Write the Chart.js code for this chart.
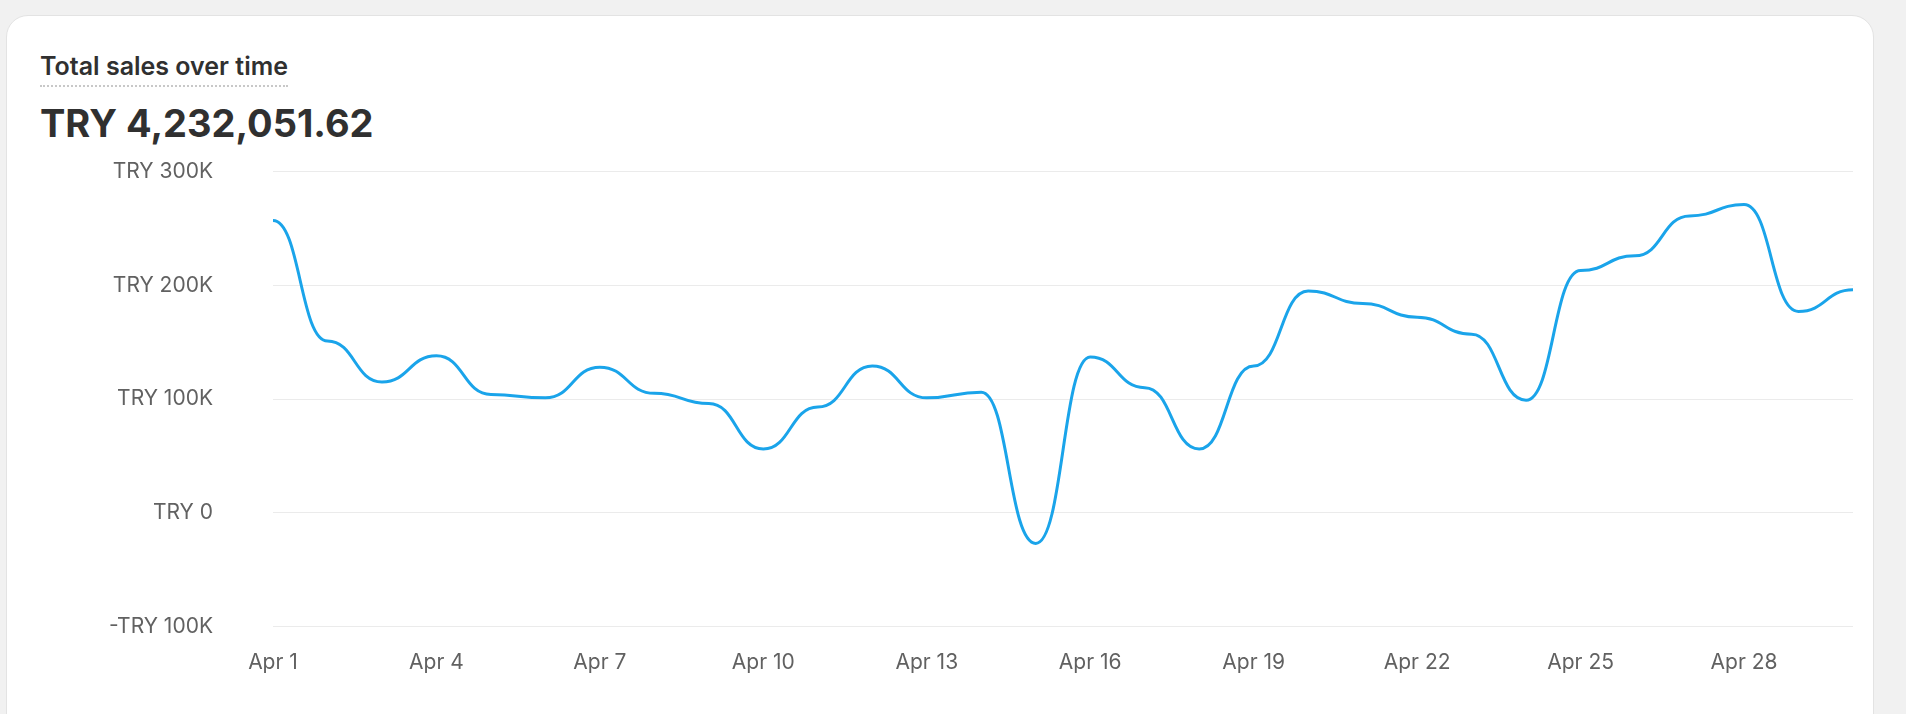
<!DOCTYPE html>
<html><head><meta charset="utf-8">
<script src="https://cdn.jsdelivr.net/npm/chart.js@4"></script>
<style>
body{margin:0;background:#f1f1f1;font-family:Inter,sans-serif;width:1906px;height:714px;overflow:hidden}
#card{position:absolute;left:6px;top:15px;width:1866px;height:720px;background:#fff;border-radius:22px;border:1px solid #e3e3e3}
#t{position:absolute;left:33px;top:35px;font-size:25px;font-weight:600;color:#303030;border-bottom:2px dotted #c8c8c8;padding-bottom:4px}
#v{position:absolute;left:33px;top:84px;font-size:38px;font-weight:700;color:#303030}
#w{position:absolute;left:42px;top:83px;width:1820px;height:600px}
</style></head><body>
<div id="card"><div id="t">Total sales over time</div><div id="v">TRY 4,232,051.62</div>
<div id="w"><canvas id="c"></canvas></div></div>
<script>
const labels=[];for(let i=1;i<=30;i++)labels.push('Apr '+i);
const sales=[257,151,115,138,104,101,128,105,96,56,93,129,101,106,-27,137,110,56,129,195,184,172,157,99,213,226,261,271,177,196].map(v=>v*1000);
const yTicks=[-100000,0,100000,200000,300000];
const flatCurve={id:'flatCurve',beforeDatasetDraw(chart,args){
  const meta=args.meta,line=meta.dataset,pts=meta.data;
  line.updateControlPoints(chart.chartArea);
  for(let i=0;i<pts.length;i++){const p=pts[i];
    const prev=pts[i-1],next=pts[i+1];
    if(prev){p.cp1x=p.x-(p.x-prev.x)*0.5;p.cp1y=p.y;}else{p.cp1x=p.x;p.cp1y=p.y;}
    if(next){p.cp2x=p.x+(next.x-p.x)*0.5;p.cp2y=p.y;}else{p.cp2x=p.x;p.cp2y=p.y;}
  }}};
new Chart(document.getElementById('c'),{type:'line',
data:{labels,datasets:[{data:sales,borderColor:'#1aa4ea',borderWidth:3,pointRadius:0,tension:0.4,fill:false}]},
plugins:[flatCurve],
options:{responsive:true,maintainAspectRatio:false,animation:false,
plugins:{legend:{display:false},tooltip:{enabled:false}},
layout:{padding:{right:8}},
scales:{
x:{grid:{display:false},border:{display:false},offset:false,
ticks:{autoSkip:false,maxRotation:0,color:'#616161',font:{family:'Inter',size:21},padding:16,
callback:(v,i)=>i%3===0?labels[i]:''}},
y:{min:-100000,max:300000,border:{display:false},grid:{color:'#ebebeb',drawTicks:false},
afterBuildTicks:a=>{a.ticks=yTicks.map(v=>({value:v}))},
ticks:{color:'#616161',font:{family:'Inter',size:21},padding:60,
callback:v=>v===0?'TRY 0':(v<0?'-':'')+'TRY '+Math.abs(v)/1000+'K'}}}}});
</script></body></html>
